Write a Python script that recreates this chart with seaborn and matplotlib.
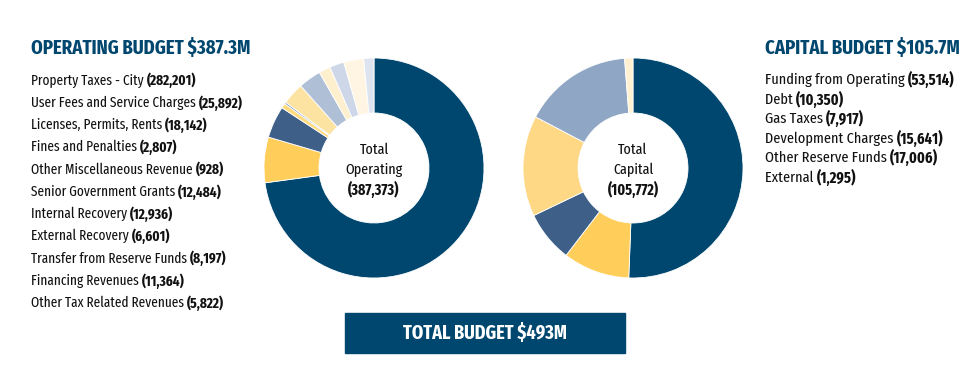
import matplotlib
matplotlib.use("Agg")
import matplotlib.pyplot as plt
import seaborn as sns
from matplotlib.patches import Rectangle

# Data
op_labels = ["Property Taxes - City", "User Fees and Service Charges", "Licenses, Permits, Rents",
             "Fines and Penalties", "Other Miscellaneous Revenue", "Senior Government Grants",
             "Internal Recovery", "External Recovery", "Transfer from Reserve Funds",
             "Financing Revenues", "Other Tax Related Revenues"]
op_values = [282201, 25892, 18142, 2807, 928, 12484, 12936, 6601, 8197, 11364, 5822]
op_colors = ["#00476F", "#FFCE5A", "#3E5F87", "#FFDB7E", "#5C80B0", "#FDE3A2",
             "#AFC0D6", "#FEF0CE", "#CDD7E7", "#FFF5E2", "#DEE4EF"]

cap_labels = ["Funding from Operating", "Debt", "Gas Taxes", "Development Charges",
              "Other Reserve Funds", "External"]
cap_values = [53514, 10350, 7917, 15641, 17006, 1295]
cap_colors = ["#00476F", "#FFCE5A", "#3E5F87", "#FED884", "#8FA6C4", "#FFF1D2"]

op_title = "OPERATING BUDGET $387.3M"
cap_title = "CAPITAL BUDGET $105.7M"
op_total = "387,373"
cap_total = "105,772"
total_text = "TOTAL BUDGET $493M"

sns.set_theme(style="white")
plt.rcParams["font.family"] = ["Fira Sans Extra Condensed", "Fira Sans Condensed",
                               "Roboto Condensed", "DejaVu Sans"]

W, H = 975, 380
fig = plt.figure(figsize=(W / 100, H / 100), dpi=100)
NAVY = "#00476F"
INK = "#111111"


def px_axes(cx, cy, r):
    return fig.add_axes([(cx - r) / W, 1 - (cy + r) / H, 2 * r / W, 2 * r / H])


def donut(cx, cy, values, colors, center_lines):
    ax = px_axes(cx, cy, 110)
    ax.pie(values, colors=colors, startangle=90, counterclock=False, radius=1,
           wedgeprops=dict(width=0.5, edgecolor="white", linewidth=0.6))
    ax.set_xlim(-1, 1)
    ax.set_ylim(-1, 1)
    ax.set_aspect("equal")
    ax.axis("off")
    ax.text(0, 0.165, center_lines[0], ha="center", va="center", fontsize=11, color=INK)
    ax.text(0, -0.015, center_lines[1], ha="center", va="center", fontsize=11, color=INK)
    ax.text(0, -0.2, center_lines[2], ha="center", va="center", fontsize=11,
            fontweight="bold", color=INK)


donut(374, 168, op_values, op_colors, ["Total", "Operating", f"({op_total})"])
donut(633, 168, cap_values, cap_colors, ["Total", "Capital", f"({cap_total})"])

# overlay for texts
tx = fig.add_axes([0, 0, 1, 1])
tx.set_xlim(0, W)
tx.set_ylim(H, 0)
tx.axis("off")
tx.patch.set_alpha(0)


def legend_block(x, y0, step, labels, values, fs):
    for i, (lab, v) in enumerate(zip(labels, values)):
        t = tx.text(x, y0 + i * step, lab + " ", ha="left", va="center", fontsize=fs,
                    color=INK)
        tx.annotate(f"({v:,})", xy=(1, 0.5), xycoords=t, ha="left", va="center",
                    fontsize=fs, fontweight="bold", color=INK)


tx.text(31, 48, op_title, ha="left", va="center", fontsize=14.6, fontweight="bold", color=NAVY)
legend_block(31, 80.5, 22.25, op_labels, op_values, 10.4)

tx.text(765, 48, cap_title, ha="left", va="center", fontsize=14.6, fontweight="bold", color=NAVY)
legend_block(765, 80, 19.5, cap_labels, cap_values, 11.2)

tx.add_patch(Rectangle((345, 313), 280, 40, color=NAVY))
tx.text(485, 333, total_text, ha="center", va="center", fontsize=14.2, fontweight="bold",
        color="white")

fig.savefig("out.png", dpi=100)
